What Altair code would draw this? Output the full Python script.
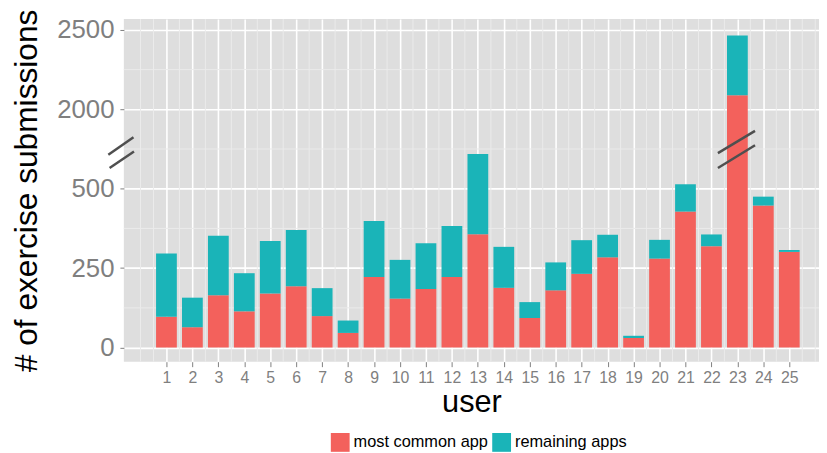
import altair as alt
import pandas as pd

# ---- data ----
users = list(range(1, 26))
most_common = [97, 64, 165, 114, 170, 193, 99, 46, 222, 154, 184, 222, 357,
               188, 93, 180, 232, 284, 30, 280, 428, 319, 2088, 447, 301]
remaining = [199, 93, 187, 120, 165, 177, 88, 39, 176, 122, 144, 161, 252,
             129, 50, 88, 106, 71, 7, 59, 86, 37, 376, 28, 6]
series = ["most common app", "remaining apps"]
colors = ["#F3615C", "#1AB4B8"]

# broken axis: values above 1000 are shown as 750 + (v - 2000) / 2
y_tick_values = [0, 250, 500, 750, 1000]
y_tick_labels = ["0", "250", "500", "2000", "2500"]
y_minor = [125, 375, 625, 875]
x_minor = [0] + [u + 0.5 for u in range(0, 26)] + [26]

# break symbols (in data units of the displayed scale)
break_x1 = [-1.24, -1.19, 22.25, 22.25]
break_x2 = [-0.27, -0.25, 23.68, 23.68]
break_y1 = [607, 565, 612, 565]
break_y2 = [662, 617, 682, 637]

rows = []
for i, u in enumerate(users):
    rows.append({"user": u, "series": series[0], "lo": 0, "hi": most_common[i]})
    rows.append({"user": u, "series": series[1], "lo": most_common[i],
                 "hi": most_common[i] + remaining[i]})
df = pd.DataFrame(rows)

brk = "datum.{f} <= 1000 ? datum.{f} : 750 + (datum.{f} - 2000) / 2"

label_expr = "datum.label"
for v, lab in zip(y_tick_values, y_tick_labels):
    label_expr = f"datum.value == {v} ? '{lab}' : ({label_expr})"

xscale = alt.Scale(domain=[-0.641, 26.145], nice=False, zero=False)
yscale = alt.Scale(domain=[-44.6, 1034], nice=False, zero=False)

FONT = "Liberation Sans"

xaxis = alt.Axis(values=users, format="d", labelFont=FONT, labelFontSize=16,
                 labelColor="#7F7F7F", tickColor="#7F7F7F", tickSize=5,
                 labelPadding=16, labelBaseline="alphabetic", domain=False,
                 grid=True, gridColor="white", gridWidth=1.6,
                 title="user", titleFont=FONT, titleFontSize=31,
                 titleFontWeight="normal", titleColor="black",
                 titleBaseline="alphabetic", titleY=50)
yaxis = alt.Axis(values=y_tick_values, labelExpr=label_expr, labelFontSize=26,
                 labelColor="#7F7F7F", tickColor="#7F7F7F", tickSize=4,
                 labelPadding=6, domain=False, grid=True, gridColor="white",
                 gridWidth=1.6, title="# of exercise submissions",
                 titleFontSize=32, titleFontWeight="normal", titleColor="black",
                 titleBaseline="alphabetic", titleX=-88, titleY=173)

minor_x = alt.Chart(pd.DataFrame({"x": x_minor})).mark_rule(
    color="#EBEBEB", strokeWidth=1).encode(
    x=alt.X("x:Q", scale=xscale, axis=xaxis))
minor_y = alt.Chart(pd.DataFrame({"y": y_minor})).mark_rule(
    color="#EBEBEB", strokeWidth=1).encode(
    y=alt.Y("y:Q", scale=yscale, axis=yaxis))

bars = alt.Chart(df).transform_calculate(
    ylo=brk.format(f="lo"), yhi=brk.format(f="hi"),
    xlo="datum.user - 0.4", xhi="datum.user + 0.4",
).mark_bar().encode(
    x=alt.X("xlo:Q", scale=xscale, axis=xaxis),
    x2="xhi:Q",
    y=alt.Y("ylo:Q", scale=yscale, axis=yaxis),
    y2="yhi:Q",
    color=alt.Color("series:N", scale=alt.Scale(domain=series, range=colors),
                    legend=alt.Legend(orient="none", legendX=209, legendY=418,
                                      direction="horizontal", title=None,
                                      symbolType="square", symbolSize=361,
                                      symbolStrokeWidth=0, symbolOpacity=1,
                                      labelFont=FONT, labelFontSize=16.5,
                                      labelColor="black", labelOffset=4,
                                      columnPadding=4, padding=0)),
)

breaks = alt.Chart(pd.DataFrame({"x1": break_x1, "x2": break_x2,
                                 "y1": break_y1, "y2": break_y2})).mark_rule(
    color="#4F4F4F", strokeWidth=2.5, clip=False).encode(
    x=alt.X("x1:Q", scale=xscale, axis=xaxis), x2="x2:Q",
    y=alt.Y("y1:Q", scale=yscale, axis=yaxis), y2="y2:Q")

chart = alt.layer(minor_x, minor_y, bars, breaks).properties(
    width=702, height=346,
    autosize=alt.AutoSizeParams(type="none"),
    padding={"left": 117, "top": 9, "right": 0, "bottom": 90},
).configure(font=FONT).configure_view(
    fill="#DEDEDE", strokeWidth=0)

chart.save("out.html", embed_options={"renderer": "svg", "actions": False})
